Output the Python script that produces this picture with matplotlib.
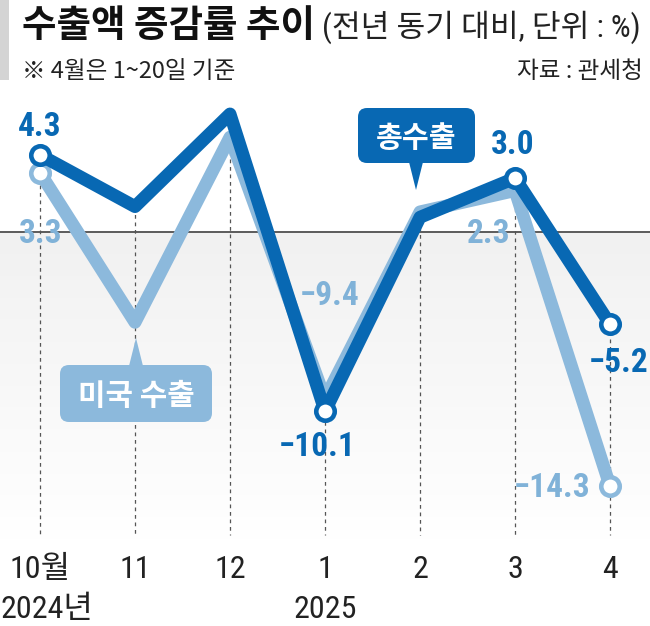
import matplotlib
matplotlib.use("Agg")
import matplotlib.pyplot as plt
import numpy as np
from matplotlib.patches import FancyBboxPatch, Polygon, Rectangle
from matplotlib.transforms import Affine2D
from matplotlib.colors import LinearSegmentedColormap
from matplotlib import font_manager

# ---------------- data ----------------
months = ["10월", "11", "12", "1", "2", "3", "4"]
years = ["2024년", "", "", "2025", "", "", ""]
total = [4.3, 1.4, 6.6, -10.1, 0.8, 3.0, -5.2]
us = [3.3, -5.1, 5.3, -9.4, 1.1, 2.3, -14.3]
total_labels = {0: "4.3", 3: "−10.1", 5: "3.0", 6: "−5.2"}
us_labels = {0: "3.3", 3: "−9.4", 5: "2.3", 6: "−14.3"}
total_marker_idx = [0, 3, 5, 6]
us_marker_idx = [0, 6]

DARK = "#0868b3"
LIGHT = "#8cb9dc"
LIGHT_TXT = "#80b2d8"
KR = "Noto Sans CJK KR"

# ---- look for a condensed / narrow sans font ----
def find_condensed():
    prefs = ["Liberation Sans Narrow", "Roboto Condensed", "Noto Sans",
             "Open Sans", "Arimo", "DejaVu Sans"]
    found = {}
    for f in font_manager.fontManager.ttflist:
        st = str(f.stretch).lower()
        nm = f.name
        if ("narrow" in nm.lower() or "condensed" in nm.lower()
                or "condensed" in st):
            found.setdefault(nm, set()).add(st)
    for p in prefs:
        for nm, sts in found.items():
            if nm.startswith(p):
                st = "normal"
                for cand in ("condensed", "semi-condensed", "extra-condensed"):
                    if cand in sts:
                        st = cand
                        break
                return nm, st
    if found:
        nm = sorted(found)[0]
        return nm, sorted(found[nm])[0]
    return "Liberation Sans", "normal"

COND, COND_ST = find_condensed()
NUMFONT = [COND, KR, "DejaVu Sans"]

plt.rcParams['font.family'] = [KR, 'DejaVu Sans']

W, H = 650, 626
fig = plt.figure(figsize=(W / 100, H / 100), dpi=100)
fig.patch.set_facecolor("white")

ax_top, ax_bot = 90, 540
ax = fig.add_axes([0, 1 - ax_bot / H, 1, (ax_bot - ax_top) / H])
ppu = 17.8
zero_px = 231.5
ymax = (zero_px - ax_top) / ppu
ymin = -(ax_bot - zero_px) / ppu
x0_px, dx_px = 40, 95
xl = (-x0_px / dx_px, (W - x0_px) / dx_px)
ax.set_xlim(xl)
ax.set_ylim(ymin, ymax)
ax.axis("off")

# gradient shading below zero
grad = np.linspace(0, 1, 256).reshape(-1, 1)
cmap = LinearSegmentedColormap.from_list("g", ["#ffffff", "#f1f1f1"])
ax.imshow(grad, extent=[xl[0], xl[1], ymin, 0], origin="lower", cmap=cmap,
          aspect="auto", zorder=0, vmin=0, vmax=1)
ax.set_xlim(xl)
ax.set_ylim(ymin, ymax)

# zero line
ax.axhline(0, color="#333333", lw=1.1, zorder=1)

xs = np.arange(len(months))
dash_bottom = -(535 - zero_px) / ppu
for i in xs:
    top = max(total[i], us[i])
    ax.plot([i, i], [top, dash_bottom], color="#555555", lw=0.9,
            dashes=(3, 3), zorder=1.5)

lw = 9.3
ax.plot(xs, us, color=LIGHT, lw=lw, solid_joinstyle="round",
        solid_capstyle="round", zorder=2)
ax.plot(xs[us_marker_idx], np.array(us)[us_marker_idx], "o", ms=13.3,
        mfc="white", mec=LIGHT, mew=3.3, zorder=2.1)
ax.plot(xs, total, color=DARK, lw=lw, solid_joinstyle="round",
        solid_capstyle="round", zorder=3)
ax.plot(xs[total_marker_idx], np.array(total)[total_marker_idx], "o", ms=13.3,
        mfc="white", mec=DARK, mew=3.3, zorder=3.1)

# value labels (offsets in pixels)
tot_off = {0: (0, 28, "center"), 3: (-8, -36, "center"), 5: (-2, 33, "center"),
           6: (9, -39, "center")}
us_off = {0: (1, -61, "center"), 3: (5, 103, "center"), 5: (-26, -43, "center"),
          6: (-20, -2, "right")}
LBL_FS = 24
for i, t in total_labels.items():
    dx, dy, ha = tot_off[i]
    ax.annotate(t, (i, total[i]), xytext=(dx, dy), textcoords="offset pixels",
                ha=ha, va="center", color=DARK, fontsize=LBL_FS, fontweight="bold",
                family=NUMFONT, fontstretch=COND_ST, zorder=5)
for i, t in us_labels.items():
    dx, dy, ha = us_off[i]
    ax.annotate(t, (i, us[i]), xytext=(dx, dy), textcoords="offset pixels",
                ha=ha, va="center", color=LIGHT_TXT, fontsize=LBL_FS,
                fontweight="bold", family=NUMFONT, fontstretch=COND_ST, zorder=5)

# x labels
TICK_FS = 23
fig.canvas.draw()
for i in xs:
    ax.annotate(months[i], (i, 0), xycoords=("data", "axes fraction"),
                xytext=(0, -38), textcoords="offset pixels", ha="center",
                va="baseline", fontsize=TICK_FS, family=NUMFONT,
                fontstretch=COND_ST, color="#222222", annotation_clip=False)
    if years[i]:
        a = ax.annotate(years[i], (i, 0), xycoords=("data", "axes fraction"),
                        xytext=(0, -78), textcoords="offset pixels", ha="center",
                        va="baseline", fontsize=TICK_FS, family=NUMFONT,
                        fontstretch=COND_ST, color="#222222",
                        annotation_clip=False)
        fig.canvas.draw()
        bb = a.get_window_extent()
        if bb.x0 < 1:
            a.set_position((1 - bb.x0, -78))


# callouts
def callout(i, v, tip_px, box_px, base_half, text, color, up, fs):
    """tip_px / box_px are given relative to the anchored data point (pixels, y down)."""
    tx, ty = ax.transData.transform((i, v))
    tip = (tx + tip_px[0], ty - tip_px[1])
    bx0, by0, bw, bh = box_px
    trans = Affine2D()
    left = tip[0] + bx0
    bottom = tip[1] - by0 - bh
    p = FancyBboxPatch((left, bottom), bw, bh,
                       boxstyle="round,pad=0,rounding_size=9",
                       fc=color, ec="none", transform=trans, zorder=4)
    fig.add_artist(p)
    base_y = bottom + 1 if not up else bottom + bh - 1
    tri = Polygon([(tip[0] - base_half, base_y), (tip[0] + base_half, base_y),
                   tip], closed=True, fc=color, ec="none", transform=trans,
                  zorder=4)
    fig.add_artist(tri)
    fig.text((left + bw / 2) / W, (bottom + bh / 2) / H, text,
             ha="center", va="center_baseline", color="white", fontsize=fs,
             fontweight="bold", family=[KR], zorder=5)


# 총수출 (anchored at Feb total point): tip (416,190), box x 358-475, y 108-163
px, py = ax.transData.transform((4, total[4]))
py_top = H - py
callout(4, total[4], (416 - px, 190 - py_top),
        (358 - 416, 108 - 190, 117, 55), 7, "총수출", DARK, False, 21)
# 미국 수출 (anchored at Nov US point): tip (136,338), box x 60-212, y 365-422
px, py = ax.transData.transform((1, us[1]))
py_top = H - py
callout(1, us[1], (136 - px, 338 - py_top),
        (60 - 136, 365 - 338, 152, 57), 7, "미국 수출", LIGHT, True, 21.5)

# header
fig.add_artist(Rectangle((0, 1 - 80 / H), 9 / W, 80 / H, transform=fig.transFigure,
                         fc="#d4d4d4", ec="none"))
t1 = fig.text(22 / W, 1 - 37 / H, "수출액 증감률 추이", fontsize=27,
              fontweight="heavy", family=[KR], va="baseline", color="#111111")
fig.canvas.draw()
bb = t1.get_window_extent()
fig.text((bb.x1 + 7) / W, 1 - 37 / H, "(전년 동기 대비, 단위 : %)", fontsize=22.5,
         family=[COND, KR], fontstretch=COND_ST, va="baseline", color="#222222")
fig.text(22 / W, 1 - 78 / H, "※ 4월은 1~20일 기준", fontsize=17,
         family=[KR, "DejaVu Sans"], va="baseline", color="#222222")
fig.text(643 / W, 1 - 78 / H, "자료 : 관세청", fontsize=17,
         family=[KR], va="baseline", ha="right", color="#222222")

fig.savefig("out.png", dpi=100, facecolor="white")
